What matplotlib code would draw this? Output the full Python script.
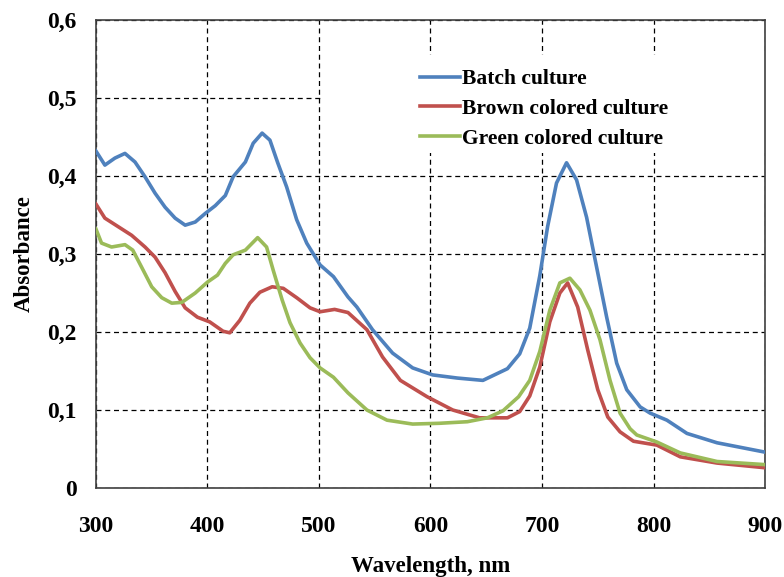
import matplotlib.pyplot as plt
from matplotlib.patches import Rectangle

plt.rcParams['font.family'] = 'Liberation Serif'
plt.rcParams['font.weight'] = 'bold'

# wavelength (nm) / absorbance
wl_batch = [300, 308, 317, 326, 335, 344, 353, 362, 371, 380, 389, 398, 407, 416, 423, 434, 441, 449,
            456, 463, 471, 480, 489, 501, 513, 526, 534, 548, 566, 584, 602, 624, 647, 669, 680,
            689, 698, 705, 713, 722, 731, 740, 749, 758, 767, 776, 788, 797, 812, 830, 857, 900]
abs_batch = [0.432, 0.414, 0.423, 0.429, 0.418, 0.399, 0.378, 0.360, 0.346, 0.337, 0.341, 0.352, 0.362, 0.375, 0.399, 0.418, 0.442, 0.455,
             0.446, 0.417, 0.386, 0.344, 0.314, 0.286, 0.271, 0.245, 0.232, 0.203, 0.173, 0.154, 0.145, 0.141, 0.138, 0.153, 0.172,
             0.205, 0.272, 0.335, 0.391, 0.417, 0.395, 0.347, 0.283, 0.219, 0.160, 0.126, 0.104, 0.096, 0.087, 0.070, 0.058, 0.046]

wl_brown = [300, 308, 320, 332, 344, 353, 362, 371, 380, 391, 402, 414, 420, 429, 438, 447, 458, 468,
            480, 492, 501, 514, 526, 543, 557, 573, 597, 620, 644, 669, 680, 689, 698, 707, 716,
            723, 732, 741, 750, 759, 770, 782, 803, 824, 857, 900]
abs_brown = [0.364, 0.346, 0.335, 0.324, 0.309, 0.296, 0.276, 0.252, 0.231, 0.219, 0.213, 0.201, 0.199, 0.215, 0.237, 0.251, 0.258, 0.256,
             0.244, 0.231, 0.226, 0.229, 0.225, 0.203, 0.168, 0.138, 0.117, 0.100, 0.090, 0.090, 0.098, 0.118, 0.155, 0.213, 0.250,
             0.263, 0.232, 0.177, 0.126, 0.091, 0.072, 0.060, 0.055, 0.040, 0.032, 0.026]

wl_green = [300, 305, 314, 326, 333, 341, 350, 359, 368, 377, 389, 400, 409, 416, 423, 434, 445, 453,
            459, 467, 474, 483, 492, 501, 513, 526, 543, 561, 584, 608, 633, 651, 665, 679, 689,
            698, 707, 716, 725, 734, 743, 752, 761, 770, 779, 785, 803, 824, 857, 900]
abs_green = [0.332, 0.314, 0.309, 0.312, 0.305, 0.283, 0.258, 0.244, 0.237, 0.238, 0.250, 0.264, 0.273, 0.288, 0.299, 0.305, 0.321, 0.309,
             0.279, 0.241, 0.212, 0.186, 0.167, 0.154, 0.142, 0.122, 0.100, 0.087, 0.082, 0.083, 0.085, 0.090, 0.099, 0.117, 0.138,
             0.175, 0.228, 0.263, 0.269, 0.254, 0.228, 0.190, 0.138, 0.096, 0.076, 0.068, 0.059, 0.045, 0.034, 0.030]

fig = plt.figure(figsize=(7.84, 5.77), dpi=100)
ax = fig.add_axes([0.1224, 0.1542, 0.8534, 0.8111])

ax.plot(wl_batch, abs_batch, color='#4F81BD', lw=2.6, label='Batch culture', zorder=3)
ax.plot(wl_brown, abs_brown, color='#C0504D', lw=2.6, label='Brown colored culture', zorder=3)
ax.plot(wl_green, abs_green, color='#9BBB59', lw=2.6, label='Green colored culture', zorder=3)

ax.set_xlim(300, 900)
ax.set_ylim(0, 0.6)
ax.set_xticks([300, 400, 500, 600, 700, 800, 900])
ax.set_yticks([0, 0.1, 0.2, 0.3, 0.4, 0.5, 0.6])
ax.set_yticklabels(['0', '0,1', '0,2', '0,3', '0,4', '0,5', '0,6'])
ax.tick_params(length=0, labelsize=17)
ax.tick_params(axis='x', pad=20)
ax.tick_params(axis='y', pad=14)

ax.grid(True, color='black', linestyle=(0, (4, 3)), linewidth=0.9)
ax.set_axisbelow(True)
for s in ax.spines.values():
    s.set_color('#404040')
    s.set_linewidth(1.2)

# white area behind the legend hides the grid
ax.add_patch(Rectangle((0.341, 0.716), 0.659, 0.209, transform=ax.transAxes,
                       facecolor='white', edgecolor='none', zorder=1.5))

ax.set_xlabel('Wavelength, nm', fontsize=16.5, fontweight='bold', labelpad=14)
ax.set_ylabel('Absorbance', fontsize=16.5, fontweight='bold', labelpad=9)

ax.legend(loc='upper left', bbox_to_anchor=(0.4843, 0.895), frameon=False,
          fontsize=15.5, handlelength=1.86, handletextpad=0.1, labelspacing=0.45,
          borderpad=0, borderaxespad=0)

fig.savefig('out.png', dpi=100)
